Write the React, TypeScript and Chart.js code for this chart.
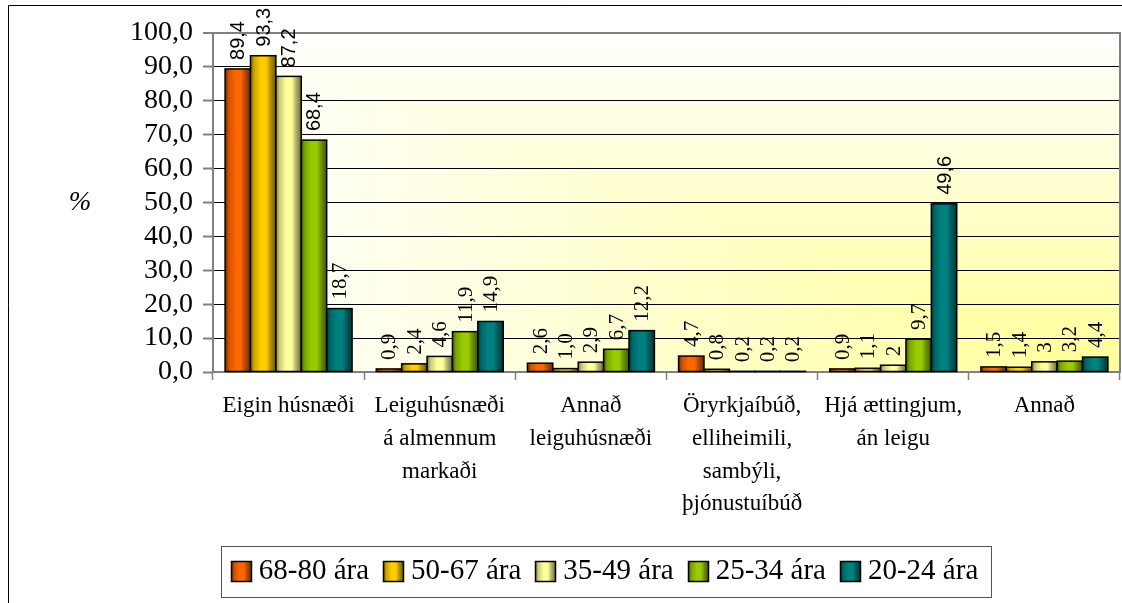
import { useEffect, useRef } from "react";
import { Chart, registerables } from "chart.js";

Chart.register(...registerables);

// ---------- data ----------
const categories: string[][] = [
  ["Eigin húsnæði"],
  ["Leiguhúsnæði", "á almennum", "markaði"],
  ["Annað", "leiguhúsnæði"],
  ["Öryrkjaíbúð,", "elliheimili,", "sambýli,", "þjónustuíbúð"],
  ["Hjá ættingjum,", "án leigu"],
  ["Annað"],
];
const seriesNames = ["68-80 ára", "50-67 ára", "35-49 ára", "25-34 ára", "20-24 ára"];
const values6880 = [89.4, 0.9, 2.6, 4.7, 0.9, 1.5];
const values5067 = [93.3, 2.4, 1.0, 0.8, 1.1, 1.4];
const values3549 = [87.2, 4.6, 2.9, 0.2, 2, 3];
const values2534 = [68.4, 11.9, 6.7, 0.2, 9.7, 3.2];
const values2024 = [18.7, 14.9, 12.2, 0.2, 49.6, 4.4];
// decimals shown in each value label
const decimals6880 = [1, 1, 1, 1, 1, 1];
const decimals5067 = [1, 1, 1, 1, 1, 1];
const decimals3549 = [1, 1, 1, 1, 0, 0];
const decimals2534 = [1, 1, 1, 1, 1, 1];
const decimals2024 = [1, 1, 1, 1, 1, 1];
const yMin = 0;
const yMax = 100;
const yStep = 10;
const yAxisLabel = "%";

const seriesValues = [values6880, values5067, values3549, values2534, values2024];
const seriesDecimals = [decimals6880, decimals5067, decimals3549, decimals2534, decimals2024];
const seriesColors = ["#FF6600", "#FFCC00", "#FFFF99", "#99CC00", "#008080"];

const SERIF = "'Liberation Serif', 'Times New Roman', serif";
const SANS = "'Liberation Sans', Arial, sans-serif";
const LEGEND_FONT = 29;
const LEGEND_BOX = 20;

function fmt(v: number, d: number) {
  return v.toFixed(d).replace(".", ",");
}

function shade(hex: string, f: number) {
  const n = parseInt(hex.slice(1), 16);
  const r = Math.round(((n >> 16) & 255) * f);
  const g = Math.round(((n >> 8) & 255) * f);
  const b = Math.round((n & 255) * f);
  return `rgb(${Math.min(255, r)},${Math.min(255, g)},${Math.min(255, b)})`;
}

function stripedFill(ctx: CanvasRenderingContext2D, base: string, left: number, top: number, w: number, h: number, lw: number) {
  const g = ctx.createLinearGradient(left, 0, left + w, 0);
  g.addColorStop(0, shade(base, 0.45));
  g.addColorStop(0.14, shade(base, 0.8));
  g.addColorStop(0.4, base);
  g.addColorStop(0.62, base);
  g.addColorStop(0.78, shade(base, 0.72));
  g.addColorStop(1, shade(base, 0.42));
  ctx.save();
  ctx.fillStyle = g;
  ctx.fillRect(left, top, w, h);
  ctx.strokeStyle = "#000";
  ctx.lineWidth = lw;
  ctx.strokeRect(left, top, w, h);
  ctx.restore();
}

const decorPlugin = {
  id: "decor",
  afterLayout(chart: any) {
    const lg = chart.legend;
    if (!lg) return;
    const target = 604.5;
    const delta = target - (lg.left + lg.right) / 2;
    lg.left += delta;
    lg.right += delta;
  },
  beforeDraw(chart: any) {
    const { ctx, chartArea: a } = chart;
    const w = Math.round(a.right - a.left);
    const h = Math.round(a.bottom - a.top);
    const img = ctx.createImageData(w, h);
    const d = img.data;
    for (let y = 0; y < h; y++) {
      const v = (h - 1 - y) / (h - 1);
      for (let x = 0; x < w; x++) {
        const u = (w - 1 - x) / (w - 1);
        const t = Math.max(u, v);
        const i = (y * w + x) * 4;
        d[i] = 255;
        d[i + 1] = 255;
        d[i + 2] = Math.round(153 + (255 - 153) * t);
        d[i + 3] = 255;
      }
    }
    ctx.putImageData(img, Math.round(a.left), Math.round(a.top));
  },
  afterDatasetsDraw(chart: any) {
    const ctx = chart.ctx;
    chart.data.datasets.forEach((ds: any, di: number) => {
      const meta = chart.getDatasetMeta(di);
      meta.data.forEach((bar: any) => {
        const p = bar.getProps(["x", "y", "base", "width"], true);
        const left = p.x - p.width / 2;
        const top = Math.min(p.y, p.base);
        const bottom = Math.max(p.y, p.base);
        stripedFill(ctx, seriesColors[di], left, top, p.width, bottom - top, 1.5);
      });
    });
    chart.data.datasets.forEach((ds: any, di: number) => {
      const meta = chart.getDatasetMeta(di);
      meta.data.forEach((bar: any, i: number) => {
        const p = bar.getProps(["x", "y"], true);
        const v = seriesValues[di][i];
        const txt = fmt(v, seriesDecimals[di][i]);
        ctx.save();
        ctx.translate(p.x + 1, p.y - 9);
        ctx.rotate(-Math.PI / 2);
        ctx.textAlign = "left";
        ctx.textBaseline = "middle";
        ctx.fillStyle = "#000";
        ctx.font = v > 40 ? `20px ${SANS}` : `21px ${SERIF}`;
        ctx.fillText(txt, 0, 0);
        ctx.restore();
      });
    });
  },
  afterDraw(chart: any) {
    const { ctx, chartArea: a } = chart;
    ctx.save();
    ctx.strokeStyle = "#808080";
    ctx.lineWidth = 2;
    ctx.beginPath();
    ctx.moveTo(a.right, a.top - 1);
    ctx.lineTo(a.right, a.bottom);
    ctx.stroke();
    const lg = chart.legend;
    if (lg && lg.legendHitBoxes && lg.legendHitBoxes.length) {
      const hb = lg.legendHitBoxes;
      let l = Infinity, r = -Infinity, c = 0;
      hb.forEach((h: any, i: number) => {
        l = Math.min(l, h.left);
        r = Math.max(r, h.left + h.width);
        c = h.top + h.height / 2;
        stripedFill(ctx, seriesColors[i], Math.round(h.left) + 0.5, Math.round(c - LEGEND_BOX / 2) + 0.5, LEGEND_BOX, LEGEND_BOX, 1.5);
      });
      ctx.strokeStyle = "#555";
      ctx.lineWidth = 1;
      ctx.strokeRect(Math.round(l - 10) + 0.5, Math.round(c - 25) + 0.5, Math.round(r - l + 22), 51);
    }
    ctx.strokeStyle = "#000";
    ctx.lineWidth = 1;
    ctx.beginPath();
    ctx.moveTo(8.5, 603);
    ctx.lineTo(8.5, 5.5);
    ctx.lineTo(1122, 5.5);
    ctx.stroke();
    ctx.fillStyle = "#000";
    ctx.font = `italic 27px ${SERIF}`;
    ctx.textAlign = "center";
    ctx.textBaseline = "middle";
    ctx.fillText(yAxisLabel, 80, 203);
    ctx.restore();
  },
};

export default function App() {
  const ref = useRef<HTMLCanvasElement | null>(null);
  useEffect(() => {
    if (!ref.current) return;
    const defaultGen = (Chart as any).defaults.plugins.legend.labels.generateLabels;
    const chart = new Chart(ref.current, {
      type: "bar",
      data: {
        labels: categories,
        datasets: seriesNames.map((name, i) => ({
          label: name,
          data: seriesValues[i],
          backgroundColor: seriesColors[i],
          borderColor: "#000",
          borderWidth: 1.5,
          categoryPercentage: 0.84,
          barPercentage: 1.0,
        })),
      },
      options: {
        responsive: false,
        maintainAspectRatio: false,
        animation: false,
        layout: { padding: { top: 33, left: 0, right: 2, bottom: 7.5 } },
        plugins: {
          tooltip: { enabled: false },
          legend: {
            position: "bottom",
            labels: {
              boxWidth: LEGEND_BOX + 8 - LEGEND_FONT / 2,
              boxHeight: LEGEND_BOX,
              padding: 14,
              color: "#000",
              font: { family: SERIF, size: LEGEND_FONT },
              generateLabels: (c: any) =>
                defaultGen(c).map((l: any) => ({
                  ...l,
                  fillStyle: "rgba(0,0,0,0)",
                  strokeStyle: "rgba(0,0,0,0)",
                  lineWidth: 0,
                })),
            },
          },
        },
        scales: {
          x: {
            grid: {
              offset: true,
              drawOnChartArea: false,
              drawTicks: true,
              tickLength: 8,
              tickColor: "#808080",
              tickWidth: 1.5,
            },
            border: { color: "#808080", width: 2 },
            ticks: {
              autoSkip: false,
              maxRotation: 0,
              minRotation: 0,
              padding: 10,
              color: "#000",
              font: { family: SERIF, size: 23, lineHeight: 1.42 },
            },
            afterFit: (scale: any) => {
              scale.height = 170.5;
            },
          },
          y: {
            min: yMin,
            max: yMax,
            ticks: {
              stepSize: yStep,
              autoSkip: false,
              padding: 10,
              color: "#000",
              font: { family: SERIF, size: 28 },
              callback: (v: any) => fmt(Number(v), 1),
            },
            grid: {
              color: (c: any) => (c.tick && c.tick.value === yMax ? "#808080" : "#000"),
              lineWidth: (c: any) => (c.tick && c.tick.value === yMax ? 2 : 1),
              tickColor: "#808080",
              tickWidth: 2,
              tickLength: 10,
            },
            border: { color: "#808080", width: 2 },
            afterFit: (scale: any) => {
              scale.width = 213;
            },
          },
        },
      },
      plugins: [decorPlugin],
    } as any);
    return () => chart.destroy();
  }, []);
  return (
    <div style={{ position: "absolute", left: 0, top: 0, width: 1122, height: 603 }}>
      <canvas ref={ref} width={1122} height={603} style={{ display: "block" }} />
    </div>
  );
}
